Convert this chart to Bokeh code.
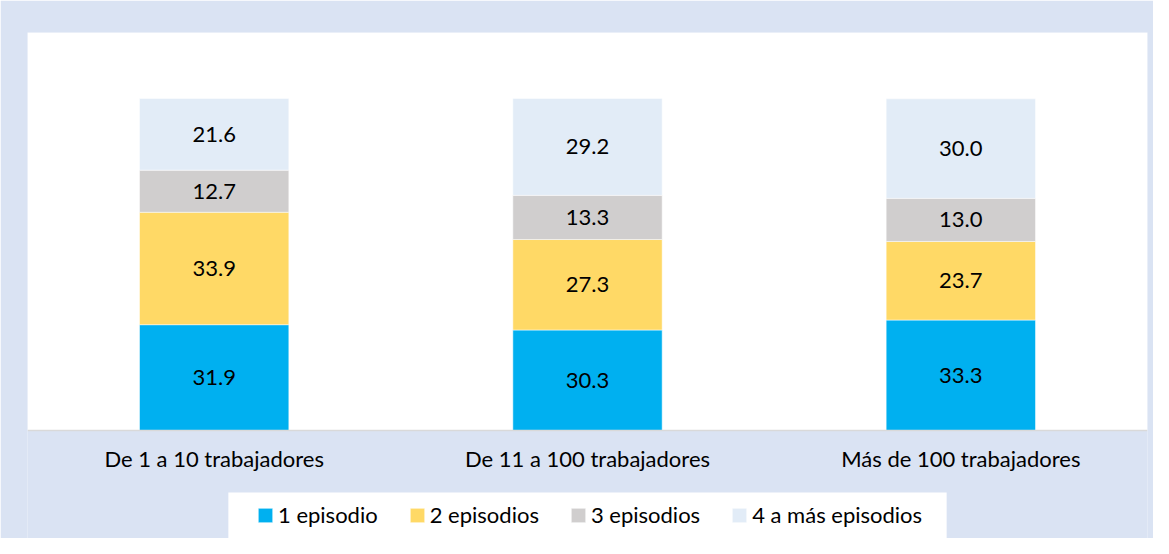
from bokeh.plotting import figure
from bokeh.models import (ColumnDataSource, FactorRange, Range1d, Legend, LegendItem,
                          BoxAnnotation, Span)
from bokeh.core.properties import value
from bokeh.embed import file_html
from bokeh.resources import INLINE

categories = ["De 1 a 10 trabajadores", "De 11 a 100 trabajadores", "Más de 100 trabajadores"]
series_names = ["1 episodio", "2 episodios", "3 episodios", "4 a más episodios"]
ep1 = [31.9, 30.3, 33.3]
ep2 = [33.9, 27.3, 23.7]
ep3 = [12.7, 13.3, 13.0]
ep4 = [21.6, 29.2, 30.0]
colors = ["#00b0f0", "#ffd966", "#d0cece", "#e2ecf7"]

FONT = "Lato"
BG = "#dae3f3"
keys = ["ep1", "ep2", "ep3", "ep4"]
data = {"cat": categories, "ep1": ep1, "ep2": ep2, "ep3": ep3, "ep4": ep4}
src = ColumnDataSource(data)

W, H = 1153, 538
TOP = 32
PLOT_PX = 398          # height of the white plotting area in px
YMAX = 120
ppu = PLOT_PX / YMAX   # px per unit
BELOW_PX = H - TOP - PLOT_PX
ymin = -BELOW_PX / ppu

p = figure(x_range=FactorRange(*categories), y_range=Range1d(ymin, YMAX),
           width=W, height=H, output_backend="svg", toolbar_location=None,
           background_fill_color=BG, border_fill_color=BG,
           min_border_left=27, min_border_right=6, min_border_top=TOP,
           min_border_bottom=0, outline_line_color=None)

# white plotting area (above y = 0)
p.add_layout(BoxAnnotation(bottom=0, fill_color="white", fill_alpha=1.0,
                           line_color=None, level="underlay"))
# white legend backdrop
p.add_layout(BoxAnnotation(left=0.538, right=2.462, top=-62 / ppu,
                           fill_color="white", fill_alpha=1.0,
                           line_color=None, level="underlay"))

rs = p.vbar_stack(keys, x="cat", width=0.4, color=colors, source=src,
                  line_color="white", line_width=0.5)

# axis line
p.add_layout(Span(location=0, dimension="width", line_color="#d9d9d9", line_width=1.5))

# value labels
series = [ep1, ep2, ep3, ep4]
lx, ly, lt = [], [], []
for i, c in enumerate(categories):
    base = 0.0
    for s in series:
        lx.append(c)
        ly.append(base + s[i] / 2)
        lt.append(f"{s[i]:.1f}")
        base += s[i]
p.text(x=lx, y=ly, text=lt, text_align="center", text_baseline="middle",
       text_font=value(FONT), text_font_size="22px", text_color="#000000")

# category labels
p.text(x=categories, y=[-28 / ppu] * len(categories), text=categories,
       text_align="center", text_baseline="middle",
       text_font=value(FONT), text_font_size="22px", text_color="#000000")

p.xaxis.visible = False
p.yaxis.visible = False
p.xgrid.grid_line_color = None
p.ygrid.grid_line_color = None

legend = Legend(items=[LegendItem(label=n, renderers=[r]) for n, r in zip(series_names, rs)],
                orientation="horizontal", location=(229, 10),
                background_fill_alpha=0.0, border_line_color=None,
                label_text_font=FONT, label_text_font_size="22px",
                label_text_color="#000000",
                glyph_width=18, glyph_height=18, label_standoff=4, spacing=30,
                padding=10, label_height=26, margin=0)
p.add_layout(legend, "center")

open("out.html", "w").write(file_html(p, INLINE))
